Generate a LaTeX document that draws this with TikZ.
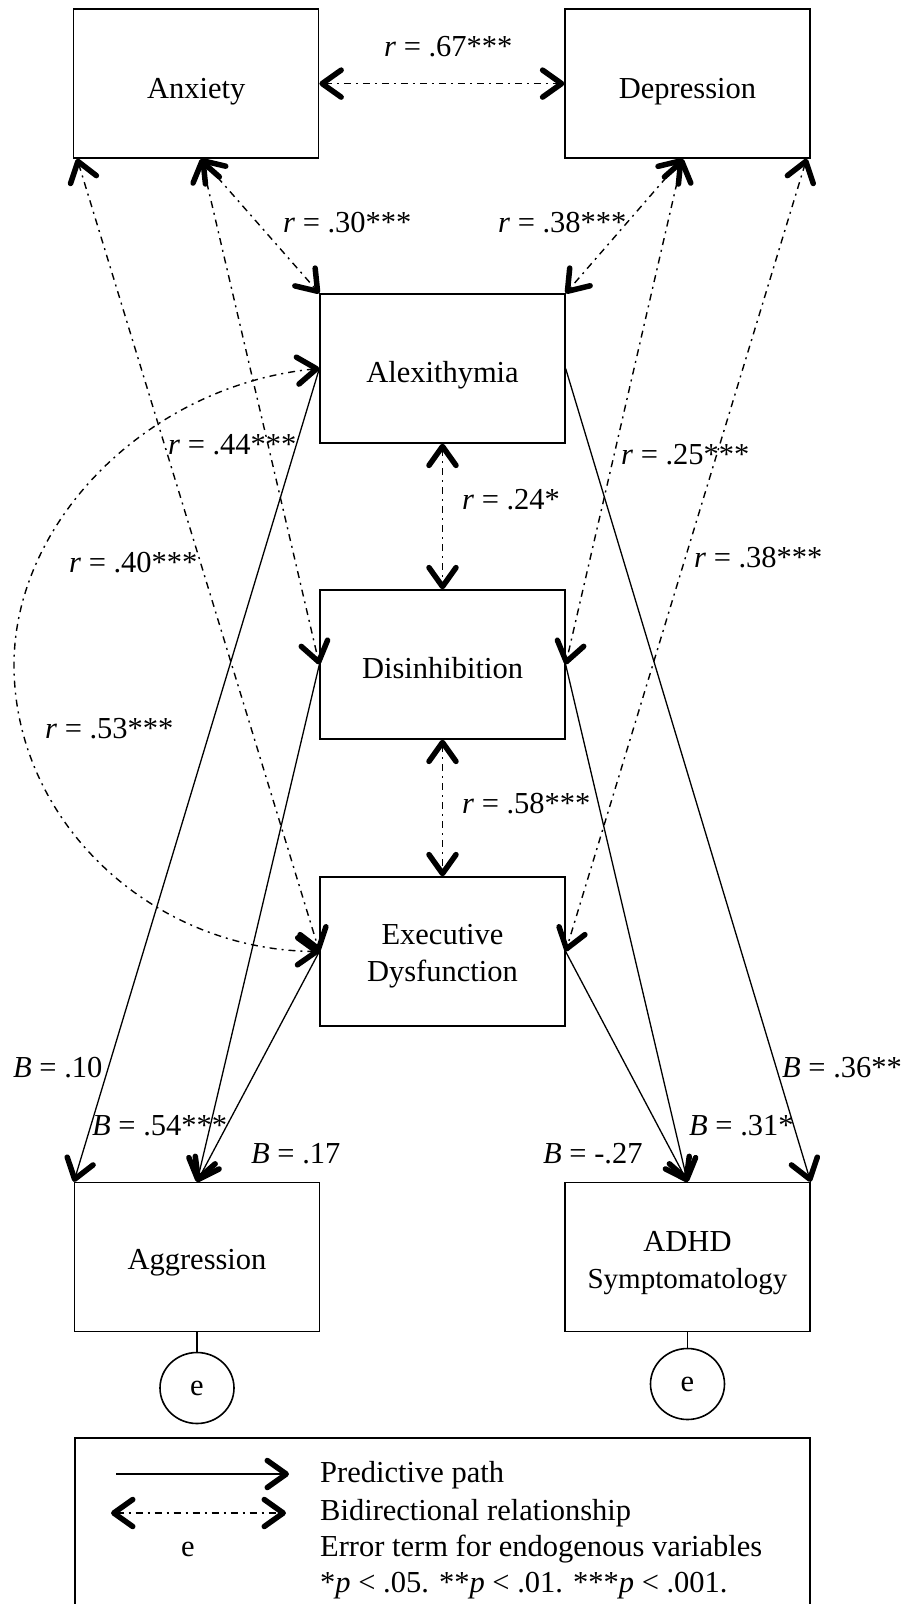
\documentclass[tikz,border=0pt]{standalone}
\usepackage{fontspec}
\setmainfont{Liberation Serif}
\usetikzlibrary{arrows.meta,shapes.geometric}
\tikzset{
  barb/.tip={Straight Barb[length=19pt,width=27pt,line width=5.5pt,round]},
  box/.style={draw, line width=1.3pt, minimum width=245pt, minimum height=149pt, inner sep=0pt},
  boxtext/.style={inner sep=0pt, align=center},
  bidir/.style={draw, line width=1.4pt, dash pattern=on 7pt off 5pt on 2pt off 5pt, barb-barb},
  pred/.style={draw, line width=1.3pt, -barb},
  lbl/.style={anchor=base west, inner sep=0pt},
  errc/.style={draw, ellipse, line width=1.6pt, minimum width=74pt, minimum height=71pt, inner sep=0pt},
}
\begin{document}
\begin{tikzpicture}[x=1pt,y=-1pt,font=\fontsize{30.5pt}{37pt}\selectfont]
\clip (0,0) rectangle (903,1604);
% boxes
\node[box] (anx) at (196.25,83.6) {};
\node[box] (dep) at (687.5,83.6) {};
\node[box] (alex) at (442.5,368.5) {};
\node[box] (dis) at (442.5,664.5) {};
\node[box] (exe) at (442.5,951.5) {};
\node[box] (agg) at (197,1257) {};
\node[box] (adhd) at (687.5,1257) {};
\node[boxtext] (anxt) at ([yshift=-8pt]anx.center) {Anxiety};
\node[boxtext] (dept) at ([yshift=-8pt]dep.center) {Depression};
\node[boxtext] (alext) at ([yshift=-7pt]alex.center) {Alexithymia};
\node[boxtext] (dist) at ([yshift=-4pt]dis.center) {Disinhibition};
\node[boxtext] (exet) at ([yshift=-5pt]exe.center) {Executive\\Dysfunction};
\node[boxtext] (aggt) at ([yshift=-6pt]agg.center) {Aggression};
\node[boxtext] (adhdt) at ([yshift=-6pt]adhd.center) {ADHD\\{\fontsize{29pt}{35pt}\selectfont Symptomatology}};
% error terms
\node[errc] (e1) at (197,1388) {e};
\node[errc] (e2) at (687.5,1384) {e};
\draw[line width=1.2pt] (agg.south) -- (e1.north);
\draw[line width=1.2pt] (adhd.south) -- (e2.north);
% bidirectional
\draw[bidir] (anx.east) -- (dep.west);
\draw[bidir] ([xshift=5pt]anx.south) -- (alex.north west);
\draw[bidir] ([xshift=5pt]anx.south) -- (dis.west);
\draw[bidir] ([xshift=4pt]anx.south west) -- (exe.west);
\draw[bidir] ([xshift=-5pt]dep.south) -- (alex.north east);
\draw[bidir] ([xshift=-5pt]dep.south) -- (dis.east);
\draw[bidir] ([xshift=-4pt]dep.south east) -- (exe.east);
\draw[bidir] (alex.south) -- (dis.north);
\draw[bidir] (dis.south) -- (exe.north);
\draw[bidir] (alex.west) .. controls (150,385) and (14,520) .. (14,665) .. controls (14,820) and (150,950) .. (exe.west);
% predictive
\draw[pred] (alex.west) -- (agg.north west);
\draw[pred] (dis.west) -- (agg.north);
\draw[pred] (exe.west) -- (agg.north);
\draw[pred] (alex.east) -- (adhd.north east);
\draw[pred] (dis.east) -- (adhd.north);
\draw[pred] (exe.east) -- (adhd.north);
% labels
\node[lbl] (l1) at (384,56) {\textit{r} = .67***};
\node[lbl] (l2) at (283,232) {\textit{r} = .30***};
\node[lbl] (l3) at (498,232) {\textit{r} = .38***};
\node[lbl] (l4) at (168,454) {\textit{r} = .44***};
\node[lbl] (l5) at (621,464) {\textit{r} = .25***};
\node[lbl] (l6) at (462,509) {\textit{r} = .24*};
\node[lbl] (l7) at (69,572) {\textit{r} = .40***};
\node[lbl] (l8) at (694,567) {\textit{r} = .38***};
\node[lbl] (l9) at (45,738) {\textit{r} = .53***};
\node[lbl] (l10) at (462,813) {\textit{r} = .58***};
\node[lbl] (l11) at (13,1077) {\textit{B} = .10};
\node[lbl] (l12) at (782,1077) {\textit{B} = .36**};
\node[lbl] (l13) at (92,1135) {\textit{B} = .54***};
\node[lbl] (l14) at (689,1135) {\textit{B} = .31*};
\node[lbl] (l15) at (251,1163) {\textit{B} = .17};
\node[lbl] (l16) at (543,1163) {\textit{B} = -.27};
% legend
\node[draw, line width=1.3pt, minimum width=735pt, minimum height=200pt, inner sep=0pt] (legend) at (442.5,1538) {};
\coordinate (p1) at (116,1474);
\coordinate (p2) at (289,1474);
\coordinate (b1) at (111,1513);
\coordinate (b2) at (286,1513);
\draw[pred] (p1) -- (p2);
\draw[bidir] (b1) -- (b2);
\node[lbl] (t1) at (320,1482) {Predictive path};
\node[lbl] (t2) at (320,1520) {Bidirectional relationship};
\node[anchor=base, inner sep=0pt] (t3e) at (188,1556) {e};
\node[lbl] (t3) at (320,1556) {Error term for endogenous variables};
\node[lbl] (t4) at (320,1592) {*\textit{p} < .05. **\textit{p} < .01. ***\textit{p} < .001.};
\end{tikzpicture}
\end{document}
